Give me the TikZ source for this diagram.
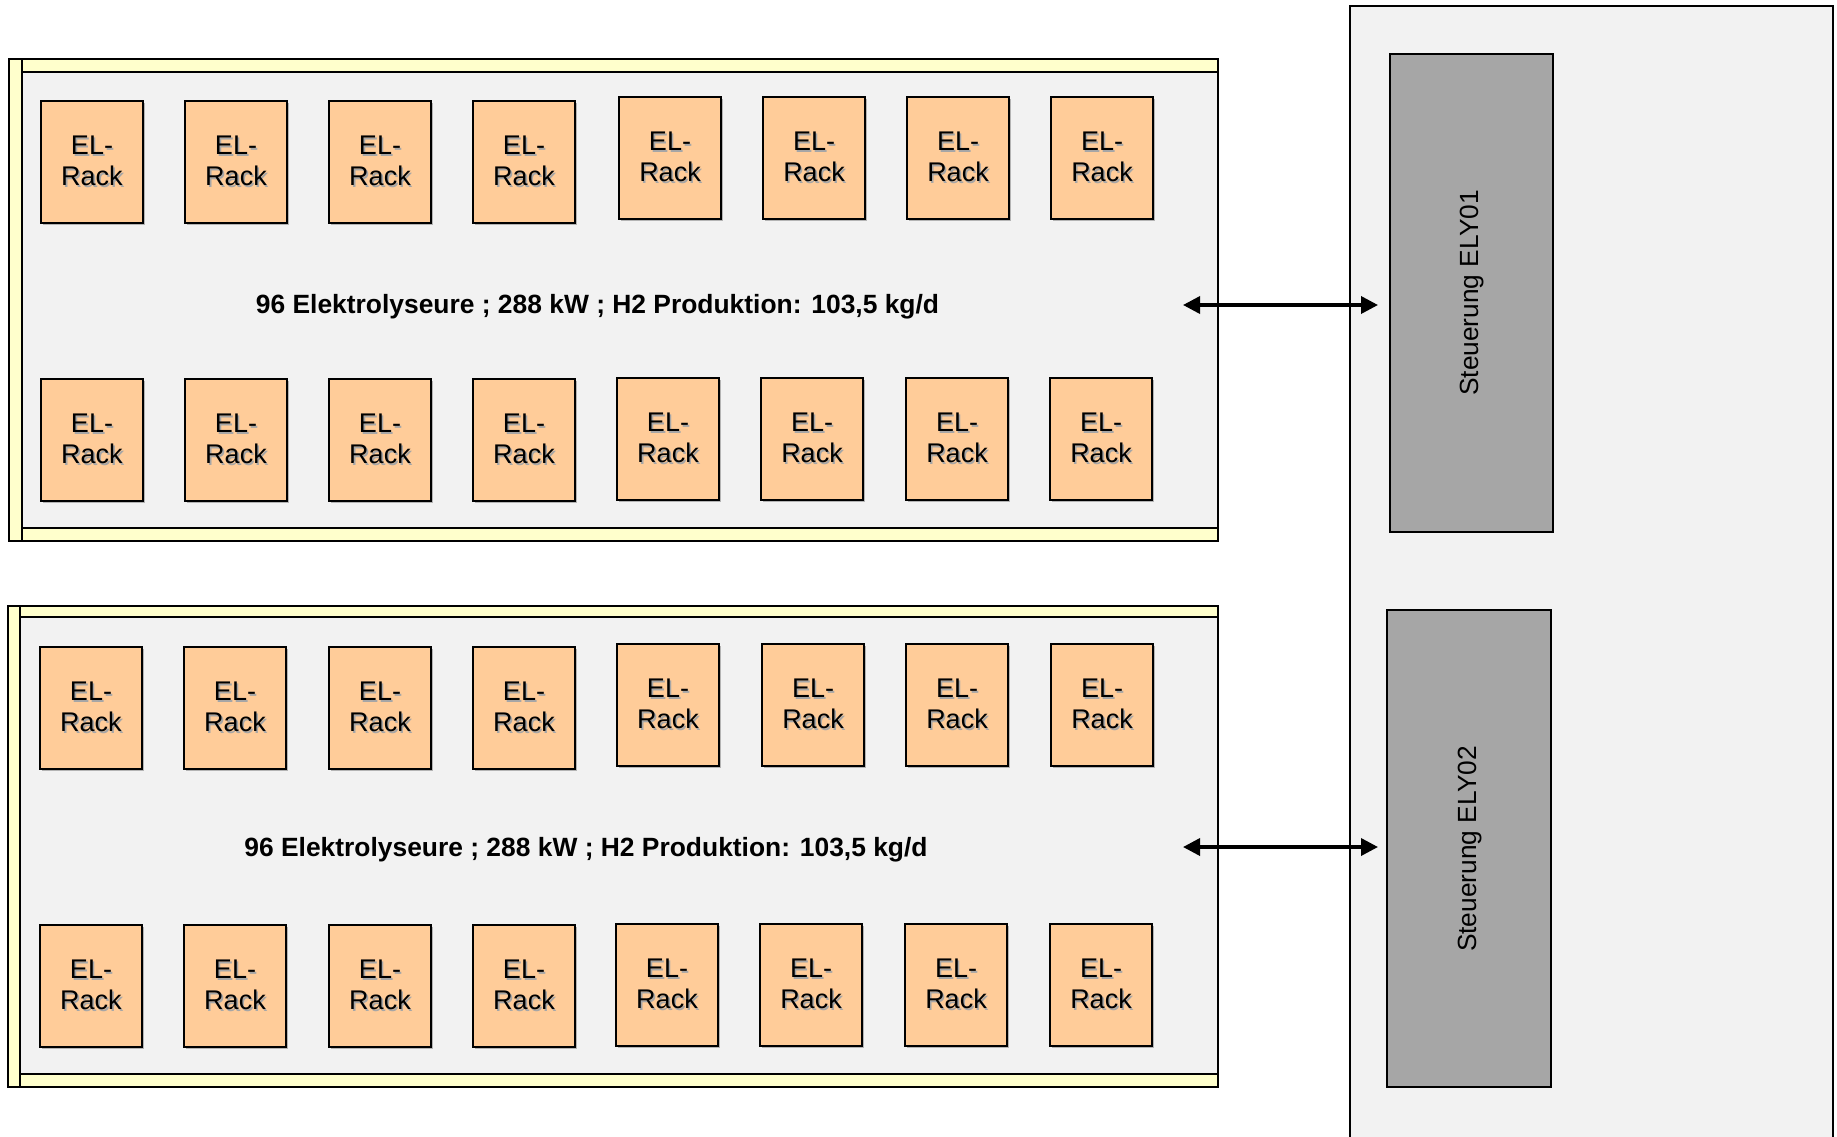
\documentclass[tikz,border=0pt]{standalone}
\usepackage{fontspec}
\setmainfont{Liberation Sans}
\usetikzlibrary{shadows,arrows.meta}
\definecolor{rackfill}{HTML}{FFCC99}
\definecolor{bodyfill}{HTML}{F2F2F2}
\definecolor{stripfill}{HTML}{FFFFCC}
\definecolor{ctlfill}{HTML}{A6A6A6}
\newcommand\shd[1]{\leavevmode\rlap{\raisebox{-1.6pt}{\hspace{1.6pt}\textcolor{black!35}{#1}}}#1}
\tikzset{
  rackbox/.style={draw=black, line width=1.8pt, fill=rackfill, minimum width=102pt, minimum height=122pt,
    inner sep=0pt, align=center, font=\fontsize{27}{31}\selectfont,
    drop shadow={shadow xshift=1.5pt, shadow yshift=-2pt, fill=black!45, opacity=0.6}},
  bodybox/.style={draw=black, line width=2.2pt, fill=bodyfill},
  stripbox/.style={draw=black, line width=2.2pt, fill=stripfill},
  ctlbox/.style={draw=black, line width=1.8pt, fill=ctlfill, inner sep=0pt},
  infotext/.style={font=\bfseries\fontsize{26.4}{30}\selectfont},
  ctltext/.style={font=\fontsize{26.3}{30}\selectfont, rotate=90},
  arr/.style={line width=3.5pt, {Triangle[length=17pt,width=17pt]}-{Triangle[length=17pt,width=17pt]}},
}
\newcommand\rk{\raisebox{-3pt}{\shd{EL-}}\\\raisebox{-3pt}{\shd{Rack}}}
\begin{document}
\begin{tikzpicture}[x=1pt,y=-1pt]
\useasboundingbox (0,0) rectangle (1837,1136);
\clip (0,0) rectangle (1837,1136);
% right panel
\draw[bodybox] (1350,6) rectangle (1833,1150);
\node[ctlbox, minimum width=163pt, minimum height=478pt] (ctl1) at (1471.5,293) {};
\node[ctltext] (ctl1t) at (1473,293) {\shd{Steuerung ELY01}};
\node[ctlbox, minimum width=164pt, minimum height=477pt] (ctl2) at (1469,848.5) {};
\node[ctltext] (ctl2t) at (1471,849) {\shd{Steuerung ELY02}};
% container 1
\draw[bodybox] (9,59) rectangle (1218,541);
\draw[stripbox] (9,59) rectangle (1218,72);
\draw[stripbox] (9,528) rectangle (1218,541);
\draw[stripbox] (9,59) rectangle (22,541);
% container 2
\draw[bodybox] (8,606) rectangle (1218,1087);
\draw[stripbox] (8,606) rectangle (1218,617);
\draw[stripbox] (8,1074) rectangle (1218,1087);
\draw[stripbox] (8,606) rectangle (20,1087);
% racks container 1 row 1
\foreach \x/\y [count=\i] in {92/162,236/162,380/162,524/162,670/158,814/158,958/158,1102/158}
  \node[rackbox] (ra\i) at (\x,\y) {\rk};
% container 1 row 2
\foreach \x/\y [count=\i] in {92/440,236/440,380/440,524/440,668/439,812/439,957/439,1101/439}
  \node[rackbox] (rb\i) at (\x,\y) {\rk};
% container 2 row 1
\foreach \x/\y [count=\i] in {91/708,235/708,380/708,524/708,668/705,813/705,957/705,1102/705}
  \node[rackbox] (rc\i) at (\x,\y) {\rk};
% container 2 row 2
\foreach \x/\y [count=\i] in {91/986,235/986,380/986,524/986,667/985,811/985,956/985,1101/985}
  \node[rackbox] (rd\i) at (\x,\y) {\rk};
% info texts
\node[infotext] (info1) at (597.5,306.5) {96 Elektrolyseure ; 288 kW ; H2 Produktion: 103,5 kg/d};
\node[infotext] (info2) at (586,850) {96 Elektrolyseure ; 288 kW ; H2 Produktion: 103,5 kg/d};
% arrows
\coordinate (a1l) at (1183,305);
\coordinate (a1r) at (1378,305);
\coordinate (a2l) at (1183,847);
\coordinate (a2r) at (1378,847);
\draw[arr] (a1l) -- (a1r);
\draw[arr] (a2l) -- (a2r);
\end{tikzpicture}
\end{document}
